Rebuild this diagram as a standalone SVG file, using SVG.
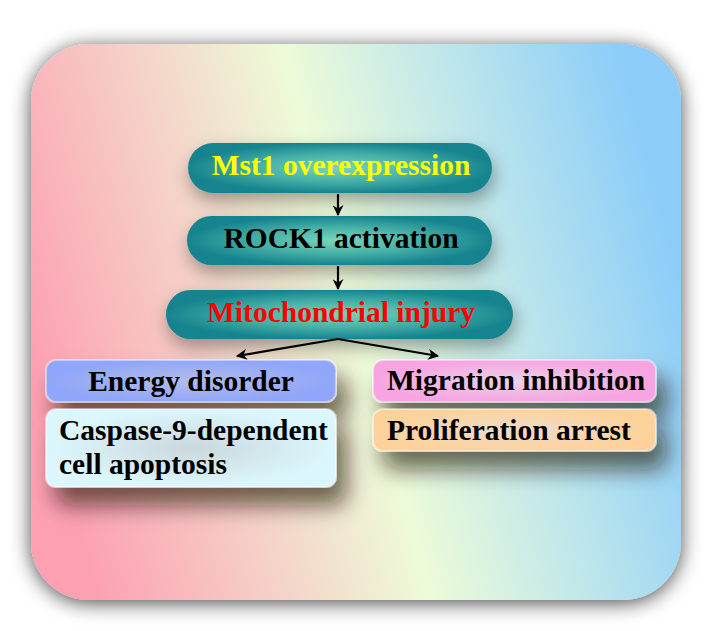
<svg xmlns="http://www.w3.org/2000/svg" width="718" height="631" viewBox="0 0 718 631">
<defs>
<linearGradient id="bg" gradientUnits="userSpaceOnUse" x1="31" y1="322" x2="681" y2="322" gradientTransform="rotate(-15 356 322)">
<stop offset="0" stop-color="#fda0b2"/>
<stop offset="0.25" stop-color="#f6cdc6"/>
<stop offset="0.5" stop-color="#edfbd8"/>
<stop offset="0.72" stop-color="#c2e8ea"/>
<stop offset="1" stop-color="#8ccdf9"/>
</linearGradient>
<radialGradient id="pill" cx="0.5" cy="0.5" r="0.5">
<stop offset="0" stop-color="#7ad6b9"/>
<stop offset="0.55" stop-color="#45afa6"/>
<stop offset="1" stop-color="#17848f"/>
</radialGradient>
<radialGradient id="gBlue" cx="0.5" cy="0.5" r="0.5"><stop offset="0" stop-color="#b4bce6"/><stop offset="1" stop-color="#8fa6fa"/></radialGradient>
<radialGradient id="gCyan" cx="0.5" cy="0.5" r="0.5"><stop offset="0" stop-color="#cbd8dc"/><stop offset="1" stop-color="#dbf7fd"/></radialGradient>
<radialGradient id="gPink" cx="0.5" cy="0.5" r="0.5"><stop offset="0" stop-color="#ecd2e6"/><stop offset="1" stop-color="#f7a4e2"/></radialGradient>
<radialGradient id="gOrange" cx="0.5" cy="0.5" r="0.5"><stop offset="0" stop-color="#eedccc"/><stop offset="1" stop-color="#fdd29a"/></radialGradient>
<filter id="panelShadow" x="-10%" y="-10%" width="120%" height="120%">
<feDropShadow dx="0" dy="3" stdDeviation="10" flood-color="#000" flood-opacity="0.7"/>
</filter>
<filter id="pillShadow" x="-20%" y="-50%" width="140%" height="220%">
<feDropShadow dx="2" dy="8" stdDeviation="9" flood-color="#000" flood-opacity="0.35"/>
</filter>
<filter id="boxShadow" x="-20%" y="-60%" width="160%" height="280%">
<feDropShadow dx="10" dy="18" stdDeviation="11" flood-color="#1a1000" flood-opacity="0.62"/>
</filter>
<marker id="arr" viewBox="0 0 10 10" refX="9" refY="5" markerWidth="6" markerHeight="5" orient="auto" markerUnits="strokeWidth">
<path d="M0,0 L10,5 L0,10 L3,5 z" fill="#000"/>
</marker>
<style>
text{font-family:"Liberation Serif","Times New Roman",serif;font-weight:bold;font-size:29.5px;fill:#000}
.c{text-anchor:middle}
.pill{fill:url(#pill);filter:url(#pillShadow)}
.box{filter:url(#boxShadow);stroke:#ffffff;stroke-opacity:0.45;stroke-width:2}
.conn{stroke:#000;stroke-width:2.2;fill:none;marker-end:url(#arr)}
</style>
</defs>
<rect x="0" y="0" width="718" height="631" fill="#ffffff"/>
<rect id="panel" x="31" y="44" width="650" height="556" rx="58" ry="58" fill="url(#bg)" filter="url(#panelShadow)"/>
<g id="n1"><rect class="pill" x="188" y="143" width="304" height="50" rx="25"/><text class="c" x="341" y="175" style="fill:#ffff00">Mst1 overexpression</text></g>
<g id="n2"><rect class="pill" x="187" y="216" width="305" height="49" rx="24.5"/><text class="c" x="341" y="248">ROCK1 activation</text></g>
<g id="n3"><rect class="pill" x="166" y="290" width="347" height="49" rx="24.5"/><text class="c" x="341" y="322" style="fill:#ff0000">Mitochondrial injury</text></g>
<g id="n4"><rect class="box" x="46" y="360" width="290" height="42" rx="10" fill="url(#gBlue)"/><text class="c" x="191" y="391">Energy disorder</text></g>
<g id="n5"><rect class="box" x="46" y="409" width="290" height="78" rx="10" fill="url(#gCyan)"/><text x="59" y="440">Caspase-9-dependent</text><text x="59" y="474">cell apoptosis</text></g>
<g id="n6"><rect class="box" x="373" y="360" width="283" height="42" rx="10" fill="url(#gPink)"/><text x="387" y="390">Migration inhibition</text></g>
<g id="n7"><rect class="box" x="373" y="409" width="283" height="42" rx="10" fill="url(#gOrange)"/><text x="387" y="440">Proliferation arrest</text></g>
<g id="connectors">
<line class="conn" x1="338" y1="194" x2="338" y2="215"/>
<line class="conn" x1="338" y1="266" x2="338" y2="289"/>
<line class="conn" x1="338" y1="339" x2="237" y2="356"/>
<line class="conn" x1="338" y1="339" x2="438" y2="356"/>
</g>
</svg>
